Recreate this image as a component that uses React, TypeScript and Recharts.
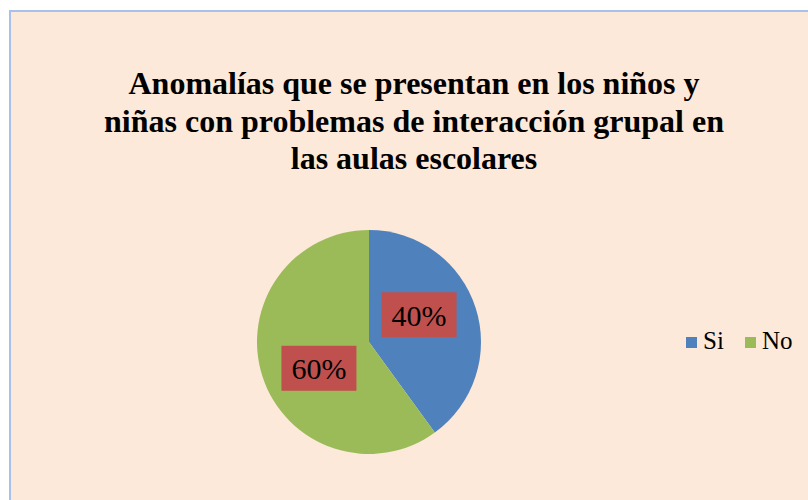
import React from 'react';
import { PieChart, Pie, Cell, Legend } from 'recharts';

const categories = ['Si', 'No'];
const values = [40, 60];
const colors = ['#4F81BD', '#9BBB59'];
const titleLines = [
  'Anomalías que se presentan en los niños y',
  'niñas con problemas de interacción grupal en',
  'las aulas escolares',
];

const data = categories.map((name, i) => ({ name, value: values[i] }));
const total = values.reduce((a, b) => a + b, 0);

const RADIAN = Math.PI / 180;
const FONT = '"Liberation Serif", "Times New Roman", serif';

const renderLabel = (props: any) => {
  const { cx, cy, midAngle, outerRadius, value } = props;
  const r = outerRadius * 0.47;
  const dx = Math.cos(-midAngle * RADIAN);
  const dy = Math.sin(-midAngle * RADIAN);
  const x = cx + r * dx;
  const y = cy + r * dy + (dy > 0 ? 10 : -11);
  const w = 75;
  const h = 45;
  const pct = Math.round((value / total) * 100) + '%';
  return (
    <g>
      <rect x={x - w / 2} y={y - h / 2} width={w} height={h} fill="#C0504D" />
      <text
        x={x}
        y={y + 11}
        textAnchor="middle"
        style={{ fontFamily: FONT, fontSize: 30 }}
        fill="#000"
      >
        {pct}
      </text>
    </g>
  );
};

const legendSquareX = [686, 745];
const legendTextX = [703, 762];

const renderLegend = () => (
  <div style={{ position: 'relative', width: 808, height: 500, fontFamily: FONT, fontSize: 25, lineHeight: '25px', color: '#000' }}>
    {categories.map((c, i) => (
      <React.Fragment key={c}>
        <span style={{ position: 'absolute', left: legendSquareX[i], top: 337, width: 11, height: 11, background: colors[i] }} />
        <span style={{ position: 'absolute', left: legendTextX[i], top: 328, whiteSpace: 'nowrap' }}>{c}</span>
      </React.Fragment>
    ))}
  </div>
);

export default function App() {
  return (
    <div style={{ position: 'absolute', left: 0, top: 0, width: 808, height: 500, overflow: 'hidden', background: '#fff' }}>
      <div
        style={{
          position: 'absolute',
          left: 9,
          top: 10,
          width: 820,
          height: 520,
          background: '#FDE9D9',
          borderLeft: '2px solid #A9C0EA',
          borderTop: '2px solid #A9C0EA',
          boxSizing: 'border-box',
        }}
      />
      <div
        style={{
          position: 'absolute',
          left: 0,
          top: 65,
          width: 828,
          textAlign: 'center',
          fontFamily: FONT,
          fontWeight: 'bold',
          fontSize: 32,
          lineHeight: '37.5px',
          color: '#000',
        }}
      >
        {titleLines.map((l) => (
          <div key={l}>{l}</div>
        ))}
      </div>
      <div style={{ position: 'absolute', left: 0, top: 0 }}>
        <PieChart width={808} height={500} margin={{ top: 0, right: 0, bottom: 0, left: 0 }}>
          <Pie
            data={data}
            dataKey="value"
            nameKey="name"
            cx={369}
            cy={342}
            outerRadius={112}
            startAngle={90}
            endAngle={-270}
            stroke="none"
            label={renderLabel}
            labelLine={false}
            isAnimationActive={false}
          >
            {data.map((d, i) => (
              <Cell key={d.name} fill={colors[i]} />
            ))}
          </Pie>
          <Legend
            content={renderLegend}
            wrapperStyle={{ position: 'absolute', left: 0, top: 0, width: 808, height: 500 }}
          />
        </PieChart>
      </div>
    </div>
  );
}
